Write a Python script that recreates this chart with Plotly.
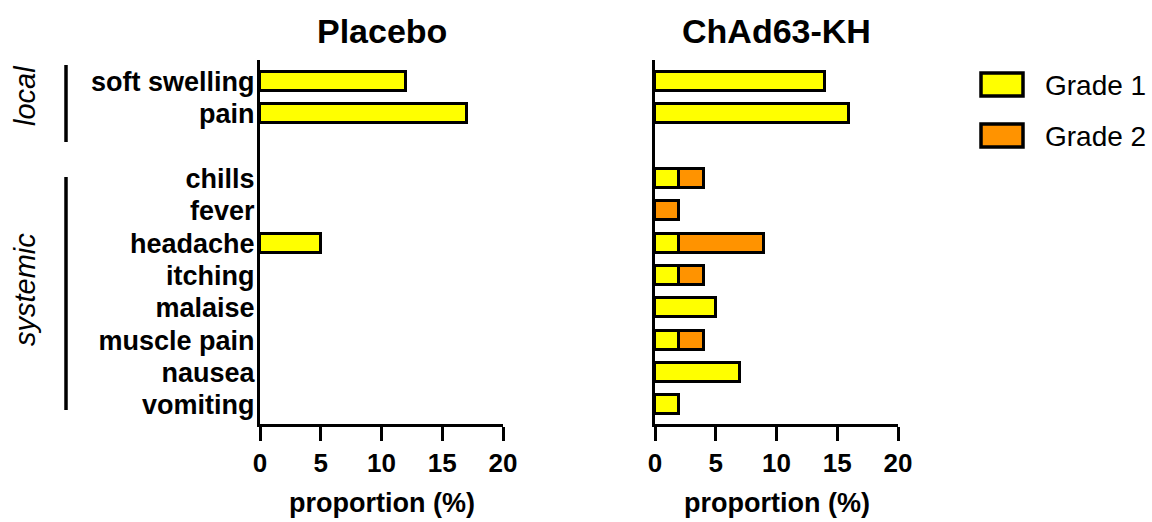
import plotly.graph_objects as go

# ---- data ----
categories = ["soft swelling", "pain", "", "chills", "fever", "headache",
              "itching", "malaise", "muscle pain", "nausea", "vomiting"]
series_names = ["Grade 1", "Grade 2"]
panel_titles = ["Placebo", "ChAd63-KH"]
placebo_grade1 = [12, 17, None, None, None, 5, None, None, None, None, None]
placebo_grade2 = [None] * 11
chad_grade1 = [14, 16, None, 2, None, 2, 2, 5, 2, 7, 2]
chad_grade2 = [None, None, None, 2, 2, 7, 2, None, 2, None, None]
x_ticks = [0, 5, 10, 15, 20]
group_labels = ["local", "systemic"]
x_title = "proportion (%)"

colors = ["#FFFF00", "#FF9300"]
W, H = 1152, 522
FONT = "Liberation Sans, Arial, sans-serif"

ypos = list(range(len(categories)))

fig = go.Figure()
panels = [(placebo_grade1, placebo_grade2, "x", "y"),
          (chad_grade1, chad_grade2, "x2", "y2")]
for g1, g2, xa, ya in panels:
    for vals, name, col in zip([g1, g2], series_names, colors):
        fig.add_trace(go.Bar(
            x=vals, y=ypos, orientation="h", name=name, xaxis=xa, yaxis=ya,
            width=0.59, marker=dict(color=col, line=dict(color="black", width=3.5)),
            showlegend=False))

def px_x(p):
    return p / W

def px_y(p):
    return 1 - p / H

xdom1 = [px_x(260), px_x(503)]
xdom2 = [px_x(655), px_x(898)]
ydom = [px_y(424), px_y(60)]
yrange = [10.59, -0.66]

xcommon = dict(range=[0, 20], tickvals=x_ticks, ticks="outside", ticklen=14,
               tickwidth=3, tickcolor="black", showline=True, linewidth=3,
               linecolor="black", showgrid=False, zeroline=False,
               automargin=False, fixedrange=True,
               tickfont=dict(family=FONT, size=26, color="black", weight="bold"))
ycommon = dict(range=yrange, tickvals=ypos, ticktext=categories, ticks="",
               showline=True, linewidth=3, linecolor="black", showgrid=False,
               zeroline=False, domain=ydom, fixedrange=True, automargin=False,
               ticklabelstandoff=-3,
               tickfont=dict(family=FONT, size=27, color="black", weight="bold"))

fig.update_layout(
    width=W, height=H, margin=dict(l=0, r=0, t=0, b=0, pad=0, autoexpand=False),
    paper_bgcolor="white", plot_bgcolor="white", barmode="stack", bargap=0,
    xaxis=dict(xcommon, domain=xdom1, anchor="y"),
    xaxis2=dict(xcommon, domain=xdom2, anchor="y2"),
    yaxis=dict(ycommon, anchor="x", showticklabels=True),
    yaxis2=dict(ycommon, anchor="x2", showticklabels=False),
    font=dict(family=FONT, color="black"),
)

annotations = []
# panel titles and axis titles
for t, dom in zip(panel_titles, [xdom1, xdom2]):
    annotations.append(dict(text=t, x=(dom[0] + dom[1]) / 2, y=px_y(31),
                            xref="paper", yref="paper", showarrow=False,
                            xanchor="center", yanchor="middle",
                            font=dict(family=FONT, size=34, weight="bold")))
    annotations.append(dict(text=x_title, x=(dom[0] + dom[1]) / 2, y=px_y(503),
                            xref="paper", yref="paper", showarrow=False,
                            xanchor="center", yanchor="middle",
                            font=dict(family=FONT, size=27, weight="bold")))

# group brackets and labels
shapes = []
for label, (y0, y1), yc in zip(group_labels, [(65, 142), (177, 410)], [96, 290]):
    shapes.append(dict(type="line", xref="paper", yref="paper",
                       x0=px_x(66), x1=px_x(66), y0=px_y(y0), y1=px_y(y1),
                       line=dict(color="black", width=3.5)))
    annotations.append(dict(text=label, x=px_x(25), y=px_y(yc), xref="paper",
                            yref="paper", showarrow=False, textangle=-90,
                            xanchor="center", yanchor="middle",
                            font=dict(family=FONT, size=29, style="italic")))

# legend (manual)
for name, col, (y0, y1), yc in zip(series_names, colors,
                                   [(73, 96), (124, 147)], [85, 136]):
    shapes.append(dict(type="rect", xref="paper", yref="paper",
                       x0=px_x(981), x1=px_x(1023), y0=px_y(y1), y1=px_y(y0),
                       fillcolor=col, line=dict(color="black", width=3.5)))
    annotations.append(dict(text=name, x=px_x(1043), y=px_y(yc), xref="paper",
                            yref="paper", showarrow=False, xanchor="left",
                            yanchor="middle", font=dict(family=FONT, size=28)))

fig.update_layout(annotations=annotations, shapes=shapes)
fig.write_html("out.html", config={"displayModeBar": False},
               post_script="document.body.style.margin='0';document.body.style.overflow='hidden';")
